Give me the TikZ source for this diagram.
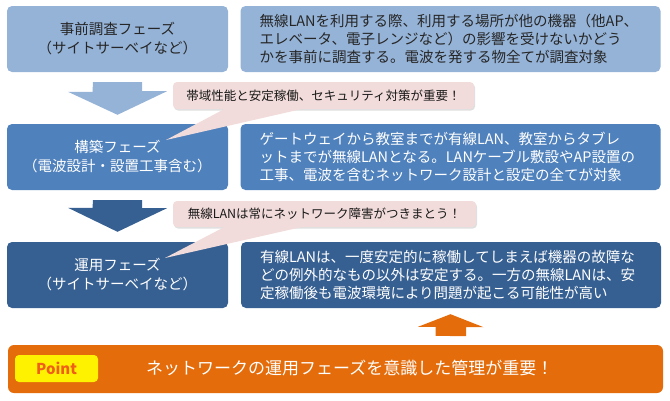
\documentclass[tikz,border=0pt]{standalone}
\usepackage{fontspec}
\setmainfont{Noto Sans CJK JP}
\usetikzlibrary{shadows,calc}
\definecolor{lblue}{HTML}{95B3D7}
\definecolor{mblue}{HTML}{4F81BD}
\definecolor{dblue}{HTML}{376092}
\definecolor{pinkc}{HTML}{F2DCDB}
\definecolor{orng}{HTML}{E46C0A}
\definecolor{ptxt}{RGB}{240,95,25}
\begin{document}
\begin{tikzpicture}[x=1pt,y=-1pt,
  phase/.style={rounded corners=5pt, minimum width=221pt, minimum height=66pt, align=center, inner sep=0pt, font=\fontsize{14.5}{19}\selectfont},
  desc/.style={rounded corners=5pt, minimum width=420pt, minimum height=66pt, text width=382pt, align=left, inner xsep=19pt, inner ysep=0pt, font=\fontsize{14.5}{18}\selectfont},
  callout/.style={fill=pinkc, rounded corners=4pt, inner sep=0pt, font=\fontsize{12.5}{15}\selectfont, text=black!90, drop shadow={opacity=0.25, shadow xshift=1pt, shadow yshift=-1.5pt}},
  callwedge/.style={fill=pinkc},
]
\useasboundingbox (0,0) rectangle (670,400);

% phase boxes
\node[phase, fill=lblue, text=black!85] (p1) at (117.5,39) {事前調査フェーズ\\（サイトサーベイなど）};
\node[desc, fill=lblue, text=black!85] (d1) at (450.5,39) {無線LANを利用する際、利用する場所が他の機器（他AP、\\エレベータ、電子レンジなど）の影響を受けないかどう\\かを事前に調査する。電波を発する物全てが調査対象};

\node[phase, fill=mblue, text=white] (p2) at (117.5,157) {構築フェーズ\\（電波設計・設置工事含む）};
\node[desc, fill=mblue, text=white] (d2) at (450.5,157) {ゲートウェイから教室までが有線LAN、教室からタブレ\\ットまでが無線LANとなる。LANケーブル敷設やAP設置の\\工事、電波を含むネットワーク設計と設定の全てが対象};

\node[phase, fill=dblue, text=white] (p3) at (117.5,275) {運用フェーズ\\（サイトサーベイなど）};
\node[desc, fill=dblue, text=white] (d3) at (451,275) {有線LANは、一度安定的に稼働してしまえば機器の故障な\\どの例外的なもの以外は安定する。一方の無線LANは、安\\定稼働後も電波環境により問題が起こる可能性が高い};

% bottom point bar
\node[fill=orng, rounded corners=6pt, minimum width=655pt, minimum height=48pt, inner sep=0pt] (bot) at (335.5,369) {};
\node[fill=yellow, rounded corners=4pt, minimum width=83pt, minimum height=27pt, inner sep=0pt, text=ptxt, font=\fontsize{15}{17}\selectfont\bfseries] (pt) at (56.5,368.5) {Point};
\node[anchor=west, inner sep=0pt, text=white, font=\fontsize{17}{20}\selectfont] (msg) at (146,368) {ネットワークの運用フェーズを意識した管理が重要！};

% block arrows
\fill[lblue] ($(p1.south)+(-24.5,10)$) -- ++(49,0) -- ++(0,9) -- ++(25,0) -- ($(p2.north)+(0,-9)$) -- ++(-49.5,-23) -- ++(24.5,0) -- cycle;
\fill[dblue] ($(p2.south)+(-24.5,10)$) -- ++(49,0) -- ++(0,8) -- ++(25,0) -- ($(p3.north)+(0,-10)$) -- ++(-49.5,-24) -- ++(24.5,0) -- cycle;
\fill[orng] ($(bot.north -| d3.south)+(-15.5,-9)$) -- ++(0,-9) -- ++(-17.5,0) -- ($(d3.south)+(-0.5,6)$) -- ++(33,13) -- ++(-17.5,0) -- ++(0,9) -- cycle;

% callouts
\node[callout, minimum width=301pt, minimum height=27pt] (c1) at (323.5,95.5) {帯域性能と安定稼働、セキュリティ対策が重要！};
\coordinate (t1) at (166,140);
\fill[callwedge] ($(c1.south west)+(55,-2)$) -- (t1) -- ($(c1.south west)+(137,-2)$) -- cycle;

\node[callout, minimum width=303pt, minimum height=26pt] (c2) at (324.5,214) {無線LANは常にネットワーク障害がつきまとう！};
\coordinate (t2) at (165,258);
\fill[callwedge] ($(c2.south west)+(55,-2)$) -- (t2) -- ($(c2.south west)+(137,-2)$) -- cycle;
\end{tikzpicture}
\end{document}
